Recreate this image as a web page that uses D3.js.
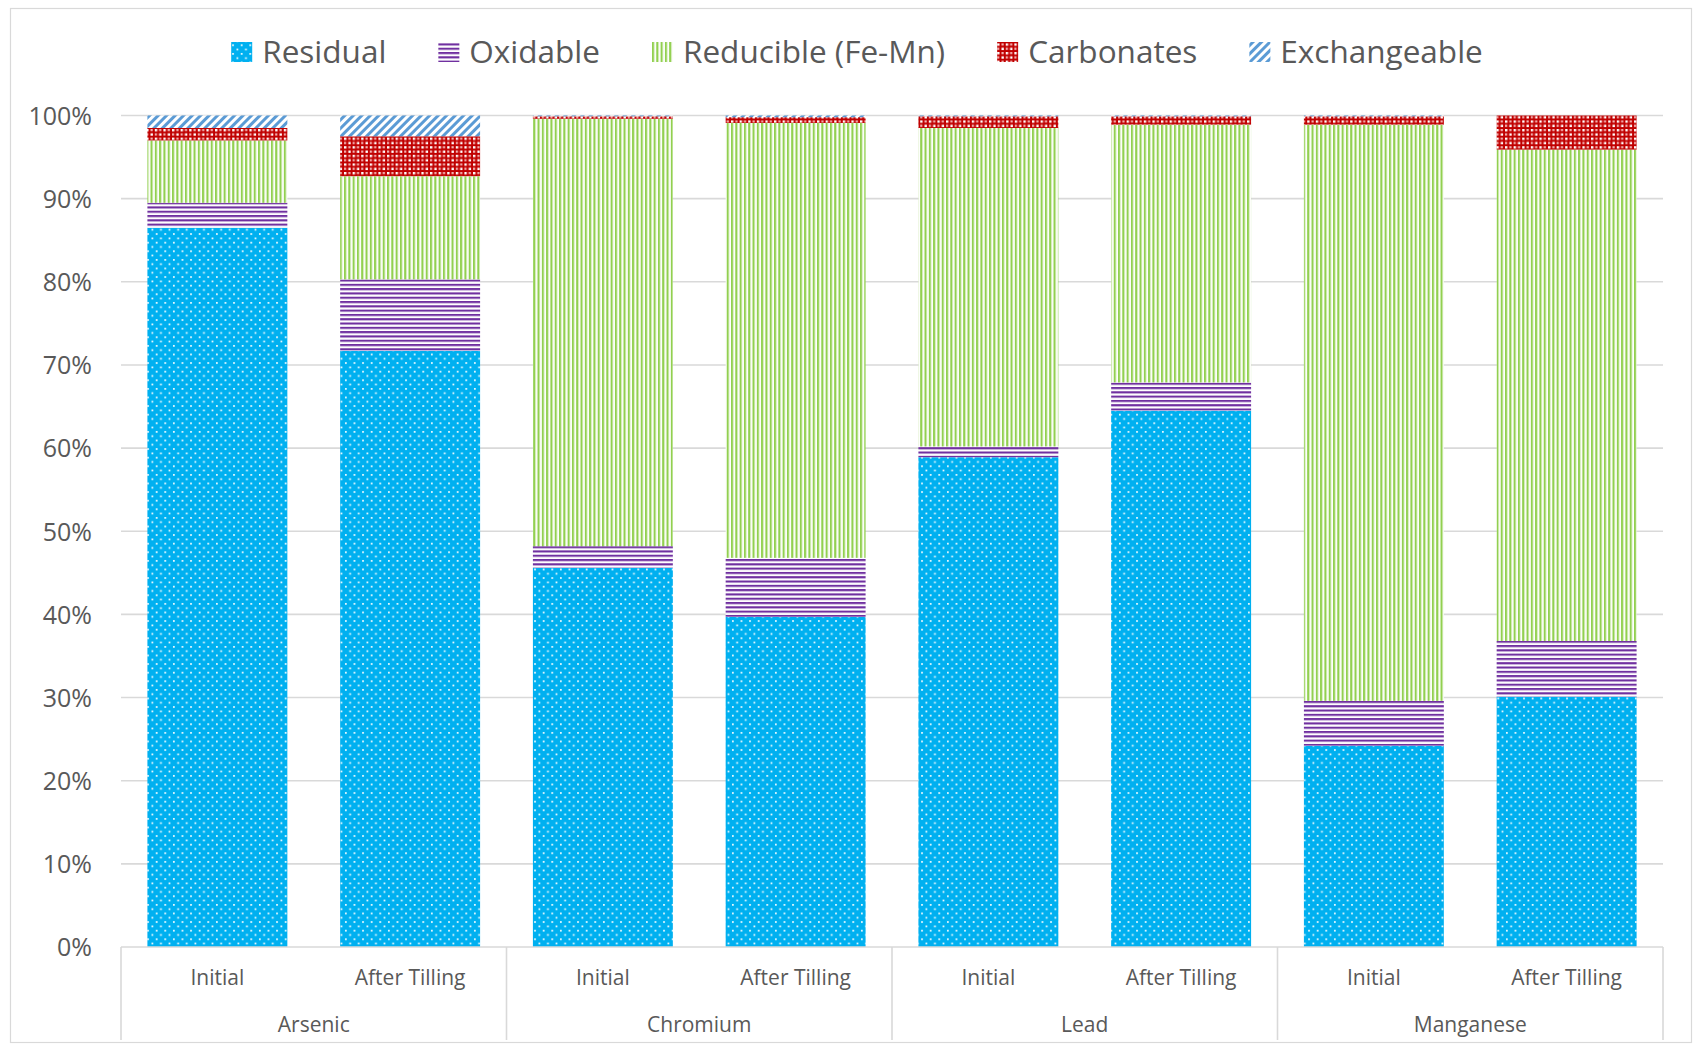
<!DOCTYPE html>
<html>
<head>
<meta charset="utf-8">
<script src="https://cdn.jsdelivr.net/npm/d3@7"></script>
<style>
  html, body { margin: 0; padding: 0; background: #fff; }
  svg { display: block; }
  text { font-family: "Open Sans", sans-serif; fill: #595959; }
</style>
</head>
<body>
<svg id="chart" width="1695" height="1050"></svg>
<script>
// ---- data ----
const metals = ["Arsenic", "Chromium", "Lead", "Manganese"];
const conditions = ["Initial", "After Tilling"];
const fractions = ["Residual", "Oxidable", "Reducible (Fe-Mn)", "Carbonates", "Exchangeable"];
// values in %, order: As-Initial, As-After, Cr-Initial, Cr-After, Pb-Initial, Pb-After, Mn-Initial, Mn-After
const residual     = [86.5, 71.7, 45.6, 39.7, 58.9, 64.5, 24.2, 30.1];
const oxidable     = [3.0, 8.6, 2.6, 7.1, 1.3, 3.4, 5.4, 6.7];
const reducible    = [7.5, 12.4, 51.4, 52.3, 38.3, 31.0, 69.3, 59.1];
const carbonates   = [1.5, 4.8, 0.3, 0.7, 1.4, 1.0, 1.0, 4.1];
const exchangeable = [1.5, 2.5, 0.1, 0.2, 0.1, 0.1, 0.1, 0.0];
const yTicks = [0, 0.1, 0.2, 0.3, 0.4, 0.5, 0.6, 0.7, 0.8, 0.9, 1.0];

// ---- build table ----
const seriesArrays = [residual, oxidable, reducible, carbonates, exchangeable];
const rows = [];
metals.forEach((m, mi) => conditions.forEach((c, ci) => {
  const i = mi * conditions.length + ci;
  const r = { key: m + "|" + c, metal: m, cond: c };
  fractions.forEach((f, fi) => r[f] = seriesArrays[fi][i]);
  rows.push(r);
}));
const stack = d3.stack().keys(fractions).offset(d3.stackOffsetExpand);
const stacked = stack(rows);

// ---- layout ----
const svg = d3.select("#chart");
const plot = { left: 121, right: 1663, top: 115.5, bottom: 947 };
const x = d3.scaleBand().domain(rows.map(d => d.key))
  .range([plot.left, plot.right]).paddingInner(0.274).paddingOuter(0.137);
const y = d3.scaleLinear().domain([0, 1]).range([plot.bottom, plot.top]);
const gridColor = "#D9D9D9";

// ---- patterns ----
const defs = svg.append("defs");
function pat(id, w, h, build, transform) {
  const p = defs.append("pattern").attr("id", id)
    .attr("patternUnits", "userSpaceOnUse").attr("width", w).attr("height", h);
  if (transform) p.attr("patternTransform", transform);
  build(p);
}
pat("p0", 8.6, 8.6, p => {
  p.append("rect").attr("width", 8.6).attr("height", 8.6).attr("fill", "#00B0F0");
  p.append("rect").attr("x", 1).attr("y", 1).attr("width", 1.7).attr("height", 1.7).attr("fill", "#fff");
  p.append("rect").attr("x", 5.3).attr("y", 5.3).attr("width", 1.7).attr("height", 1.7).attr("fill", "#fff");
});
pat("p1", 8.6, 4.3, p => {
  p.append("rect").attr("width", 8.6).attr("height", 4.3).attr("fill", "#fff");
  p.append("rect").attr("width", 8.6).attr("height", 1.9).attr("fill", "#7030A0");
  p.append("rect").attr("y", 1.9).attr("width", 8.6).attr("height", 0.7).attr("fill", "#b697d0");
});
pat("p2", 4.3, 8.6, p => {
  p.append("rect").attr("width", 4.3).attr("height", 8.6).attr("fill", "#fff");
  p.append("rect").attr("width", 1.9).attr("height", 8.6).attr("fill", "#92D050");
  p.append("rect").attr("x", 1.9).attr("width", 0.8).attr("height", 8.6).attr("fill", "#c8e6a6");
});
pat("p3", 8.6, 8.6, p => {
  p.append("rect").attr("width", 8.6).attr("height", 8.6).attr("fill", "#C00000");
  p.append("rect").attr("x", 0).attr("y", 0).attr("width", 2.4).attr("height", 2.4).attr("fill", "#fff");
  p.append("rect").attr("x", 4.3).attr("y", 4.3).attr("width", 2.4).attr("height", 2.4).attr("fill", "#fff");
  p.append("rect").attr("x", 4.3).attr("y", 0).attr("width", 2.2).attr("height", 2.2).attr("fill", "#f4b6b6");
  p.append("rect").attr("x", 0).attr("y", 4.3).attr("width", 2.2).attr("height", 2.2).attr("fill", "#f4b6b6");
});
pat("p4", 6, 6, p => {
  p.append("rect").attr("width", 6).attr("height", 6).attr("fill", "#fff");
  p.append("rect").attr("width", 3).attr("height", 6).attr("fill", "#5B9BD5");
}, "rotate(45)");
const fillOf = i => `url(#p${i})`;

// ---- chart border ----
svg.append("rect").attr("x", 10.5).attr("y", 8.5).attr("width", 1681).attr("height", 1034)
  .attr("fill", "none").attr("stroke", gridColor).attr("stroke-width", 1.2);

// ---- gridlines ----
svg.append("g").selectAll("line").data(yTicks.filter(t => t > 0)).join("line")
  .attr("x1", plot.left).attr("x2", plot.right)
  .attr("y1", d => y(d)).attr("y2", d => y(d))
  .attr("stroke", gridColor).attr("stroke-width", 1.6);

// ---- y axis labels ----
const yAxis = d3.axisLeft(y).tickValues(yTicks).tickFormat(d3.format(".0%")).tickSize(0).tickPadding(0);
const ya = svg.append("g").attr("transform", `translate(${plot.left - 29},0)`).call(yAxis);
ya.select(".domain").remove();
ya.selectAll("text").style("font-family", '"Open Sans", sans-serif').style("font-size", "25px")
  .attr("fill", "#595959").attr("dy", "0.35em");

// ---- bars ----
svg.append("g").selectAll("g").data(stacked).join("g")
  .attr("fill", (d, i) => fillOf(i))
  .selectAll("rect").data(d => d).join("rect")
  .attr("x", d => x(d.data.key))
  .attr("width", x.bandwidth())
  .attr("y", d => y(d[1]))
  .attr("height", d => Math.max(0, y(d[0]) - y(d[1])));

// ---- x axis ----
svg.append("line").attr("x1", plot.left).attr("x2", plot.right)
  .attr("y1", plot.bottom).attr("y2", plot.bottom)
  .attr("stroke", gridColor).attr("stroke-width", 1.6);
const groupW = (plot.right - plot.left) / metals.length;
const sepX = d3.range(metals.length + 1).map(i => plot.left + i * groupW);
svg.append("g").selectAll("line").data(sepX).join("line")
  .attr("x1", d => d).attr("x2", d => d)
  .attr("y1", plot.bottom).attr("y2", 1040)
  .attr("stroke", gridColor).attr("stroke-width", 1.6);
svg.append("g").selectAll("text").data(rows).join("text")
  .attr("x", d => x(d.key) + x.bandwidth() / 2)
  .attr("y", 978).attr("dy", "0.35em")
  .attr("text-anchor", "middle").style("font-size", "21px")
  .text(d => d.cond);
svg.append("g").selectAll("text").data(metals).join("text")
  .attr("x", (d, i) => plot.left + (i + 0.5) * groupW)
  .attr("y", 1025).attr("dy", "0.35em")
  .attr("text-anchor", "middle").style("font-size", "21px")
  .text(d => d);

// ---- legend ----
const lg = svg.append("g");
const items = lg.selectAll("g").data(fractions).join("g");
items.append("rect").attr("width", 21).attr("height", 20).attr("y", -10)
  .attr("fill", (d, i) => fillOf(i));
items.append("text").attr("x", 31).attr("dy", "0.35em").style("font-size", "31.5px").text(d => d);
let cx = 0;
const gap = 52;
items.each(function () {
  const g = d3.select(this);
  const w = 31 + g.select("text").node().getComputedTextLength();
  g.attr("transform", `translate(${cx},0)`);
  cx += w + gap;
});
const total = cx - gap;
lg.attr("transform", `translate(${857 - total / 2},52)`);
</script>
</body>
</html>
